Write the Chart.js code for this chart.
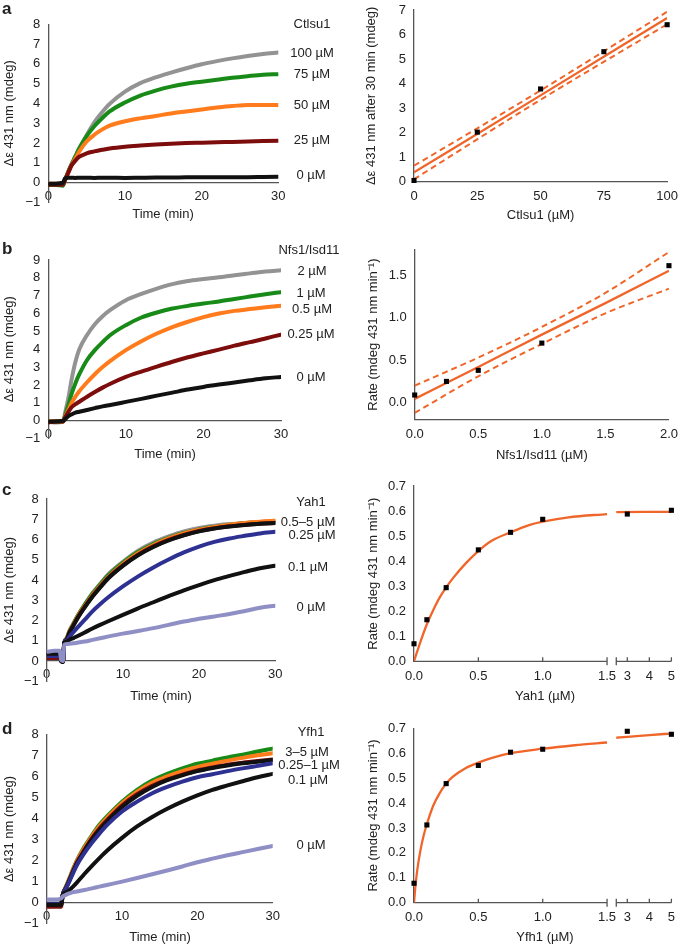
<!DOCTYPE html>
<html>
<head>
<meta charset="utf-8">
<title>Fe-S cluster assembly kinetics</title>
<script src="https://cdn.jsdelivr.net/npm/chart.js@4.4.1/dist/chart.umd.min.js"></script>
<style>
  body { margin: 0; background: #fff; }
  #fig { position: relative; width: 685px; height: 944px; overflow: hidden;
         font-family: 'Liberation Sans', Arial, sans-serif; color: #222; }
  #fig canvas { position: absolute; }
  .lbl { position: absolute; font-size: 13px; white-space: nowrap; transform: translate(-50%, -50%); }
  .pan { position: absolute; font-size: 17px; font-weight: bold; line-height: 1; }
</style>
</head>
<body>
<div id="fig">
  <canvas id="kinA" width="300" height="215" style="left:0;top:0"></canvas>
  <canvas id="kinB" width="300" height="230" style="left:0;top:220px"></canvas>
  <canvas id="kinC" width="300" height="230" style="left:0;top:460px"></canvas>
  <canvas id="kinD" width="300" height="244" style="left:0;top:700px"></canvas>
  <canvas id="endA" width="345" height="230" style="left:340px;top:0"></canvas>
  <canvas id="rateB" width="345" height="235" style="left:340px;top:230px"></canvas>
  <canvas id="rateC" width="345" height="235" style="left:340px;top:465px"></canvas>
  <canvas id="rateD" width="345" height="244" style="left:340px;top:700px"></canvas>

  <div class="pan" style="left:2px;top:0">a</div>
  <div class="pan" style="left:2px;top:240px">b</div>
  <div class="pan" style="left:2px;top:481px">c</div>
  <div class="pan" style="left:2px;top:720px">d</div>

  <div class="lbl" style="left:312px;top:23px">Ctlsu1</div>
  <div class="lbl" style="left:312px;top:52px">100 µM</div>
  <div class="lbl" style="left:312px;top:73px">75 µM</div>
  <div class="lbl" style="left:312px;top:104px">50 µM</div>
  <div class="lbl" style="left:312px;top:139px">25 µM</div>
  <div class="lbl" style="left:311px;top:174px">0 µM</div>
  <div class="lbl" style="left:163px;top:213px">Time (min)</div>

  <div class="lbl" style="left:309px;top:249px">Nfs1/Isd11</div>
  <div class="lbl" style="left:312px;top:270px">2 µM</div>
  <div class="lbl" style="left:311px;top:292px">1 µM</div>
  <div class="lbl" style="left:312px;top:308px">0.5 µM</div>
  <div class="lbl" style="left:311px;top:333px">0.25 µM</div>
  <div class="lbl" style="left:311px;top:376px">0 µM</div>
  <div class="lbl" style="left:165px;top:453px">Time (min)</div>

  <div class="lbl" style="left:311px;top:501px">Yah1</div>
  <div class="lbl" style="left:308px;top:521px">0.5–5 µM</div>
  <div class="lbl" style="left:312px;top:534px">0.25 µM</div>
  <div class="lbl" style="left:308px;top:566px">0.1 µM</div>
  <div class="lbl" style="left:311px;top:606px">0 µM</div>
  <div class="lbl" style="left:161px;top:695px">Time (min)</div>
  <div class="lbl" style="left:545px;top:695px">Yah1 (µM)</div>

  <div class="lbl" style="left:311px;top:731px">Yfh1</div>
  <div class="lbl" style="left:307px;top:751px">3–5 µM</div>
  <div class="lbl" style="left:309px;top:764px">0.25–1 µM</div>
  <div class="lbl" style="left:308px;top:779px">0.1 µM</div>
  <div class="lbl" style="left:311px;top:844px">0 µM</div>
  <div class="lbl" style="left:160px;top:936px">Time (min)</div>
  <div class="lbl" style="left:545px;top:936px">Yfh1 (µM)</div>
</div>

<script>
// ---- a: Ctlsu1 titration, left traces (mdeg vs min) ----
const timeA = [0, 1, 1.9, 2.2, 2.6, 3, 3.5, 4, 5, 6, 7, 8, 10, 12, 14, 16, 18, 20, 22, 24, 26, 28, 30];
const ctl100 = [-0.05, -0.05, -0.05, 0.15, 0.55, 0.9, 1.3, 1.7, 2.4, 3.05, 3.55, 3.98, 4.6, 5.03, 5.32, 5.56, 5.78, 5.98, 6.14, 6.28, 6.4, 6.5, 6.58];
const ctl75 = [-0.12, -0.12, -0.15, 0.15, 0.55, 0.9, 1.3, 1.7, 2.35, 2.85, 3.25, 3.6, 4.05, 4.4, 4.65, 4.85, 5.0, 5.1, 5.2, 5.3, 5.38, 5.45, 5.48];
const ctl50 = [-0.05, -0.05, -0.05, 0.15, 0.5, 0.85, 1.2, 1.55, 2.08, 2.42, 2.68, 2.88, 3.1, 3.25, 3.37, 3.5, 3.6, 3.7, 3.8, 3.87, 3.93, 3.92, 3.92];
const ctl25 = [-0.1, -0.1, -0.1, 0.15, 0.5, 0.85, 1.1, 1.3, 1.48, 1.58, 1.66, 1.73, 1.82, 1.88, 1.93, 1.97, 2.0, 2.02, 2.04, 2.06, 2.08, 2.1, 2.12];
const ctl0 = [-0.05, -0.05, 0, 0.22, 0.25, 0.25, 0.24, 0.25, 0.25, 0.24, 0.25, 0.25, 0.24, 0.25, 0.26, 0.26, 0.27, 0.27, 0.28, 0.28, 0.28, 0.29, 0.3];

// a, right: signal after 30 min
const ctlConc = [0, 25, 50, 75, 100];
const ctlSignal = [0.05, 2.02, 3.78, 5.3, 6.4];
const ctlFitX = [0, 50, 100];
const ctlFit = [0.38, 3.52, 6.67];
const ctlFitHi = [0.65, 3.72, 6.93];
const ctlFitLo = [0.1, 3.34, 6.42];

// ---- b: Nfs1/Isd11 titration ----
const timeB = [0, 1, 1.9, 2.2, 2.6, 3, 3.5, 4, 5, 6, 7, 8, 10, 12, 14, 16, 18, 20, 22, 24, 26, 28, 30];
const nfs2 = [-0.05, -0.1, -0.05, 0.5, 1.3, 2.3, 3.3, 4.0, 4.8, 5.4, 5.85, 6.2, 6.75, 7.1, 7.4, 7.65, 7.82, 7.93, 8.03, 8.15, 8.25, 8.35, 8.42];
const nfs1 = [-0.05, -0.05, -0.05, 0.35, 0.9, 1.5, 2.1, 2.6, 3.4, 3.95, 4.4, 4.8, 5.35, 5.78, 6.06, 6.28, 6.43, 6.56, 6.68, 6.82, 6.95, 7.08, 7.2];
const nfs05 = [-0.05, -0.05, -0.05, 0.25, 0.6, 1.0, 1.35, 1.65, 2.15, 2.6, 3.0, 3.35, 3.95, 4.45, 4.88, 5.24, 5.54, 5.8, 6.0, 6.15, 6.25, 6.35, 6.44];
const nfs025 = [-0.1, -0.05, -0.05, 0.2, 0.5, 0.75, 0.92, 1.06, 1.34, 1.6, 1.85, 2.07, 2.45, 2.75, 3.03, 3.3, 3.55, 3.77, 3.98, 4.2, 4.4, 4.6, 4.82];
const nfs0 = [-0.05, -0.05, 0, 0.1, 0.25, 0.35, 0.45, 0.5, 0.6, 0.7, 0.8, 0.88, 1.05, 1.22, 1.4, 1.57, 1.74, 1.89, 2.02, 2.14, 2.26, 2.37, 2.45];

const nfsConc = [0, 0.25, 0.5, 1.0, 2.0];
const nfsRate = [0.09, 0.25, 0.38, 0.70, 1.61];
const nfsFitX = [0, 0.5, 1, 1.5, 2];
const nfsFit = [0.045, 0.42, 0.80, 1.17, 1.55];
const nfsFitHi = [0.2, 0.53, 0.89, 1.29, 1.77];
const nfsFitLo = [-0.12, 0.31, 0.69, 1.05, 1.34];

// ---- c: Yah1 titration ----
const timeC = [0, 1, 1.7, 1.9, 2.15, 2.3, 2.6, 3, 3.5, 4, 5, 6, 7, 8, 10, 12, 14, 16, 18, 20, 22, 24, 26, 28, 30];
const yahGray = [0.25, 0.25, 0.25, 0.02, 0, 0.9, 1.12, 1.5, 1.85, 2.2, 2.8, 3.35, 3.8, 4.25, 4.9, 5.45, 5.85, 6.15, 6.4, 6.57, 6.68, 6.76, 6.82, 6.87, 6.9];
const yahGreen = [0.2, 0.2, 0.2, 0, -0.02, 0.9, 1.1, 1.48, 1.83, 2.18, 2.78, 3.32, 3.77, 4.2, 4.85, 5.38, 5.78, 6.08, 6.32, 6.5, 6.62, 6.72, 6.8, 6.86, 6.88];
const yahOrange = [0.2, 0.2, 0.2, 0, -0.02, 0.88, 1.08, 1.45, 1.8, 2.15, 2.72, 3.25, 3.7, 4.12, 4.78, 5.32, 5.73, 6.05, 6.3, 6.48, 6.62, 6.73, 6.82, 6.88, 6.92];
const yahRed = [0.15, 0.15, 0.15, -0.02, -0.05, 0.88, 1.06, 1.42, 1.76, 2.1, 2.68, 3.2, 3.65, 4.08, 4.72, 5.25, 5.66, 5.98, 6.22, 6.42, 6.55, 6.65, 6.72, 6.78, 6.82];
const yahBlack = [0.3, 0.3, 0.3, 0, -0.05, 0.88, 1.05, 1.4, 1.74, 2.08, 2.65, 3.17, 3.62, 4.05, 4.7, 5.22, 5.63, 5.95, 6.2, 6.4, 6.54, 6.64, 6.72, 6.78, 6.82];
const yah025 = [0.25, 0.25, 0.25, 0, -0.02, 0.9, 1.0, 1.2, 1.42, 1.63, 2.04, 2.45, 2.8, 3.12, 3.68, 4.18, 4.62, 5.01, 5.36, 5.65, 5.88, 6.05, 6.18, 6.3, 6.38];
const yah01 = [0.35, 0.35, 0.35, 0, -0.05, 0.9, 0.95, 1.05, 1.13, 1.22, 1.41, 1.6, 1.78, 1.95, 2.28, 2.6, 2.9, 3.2, 3.49, 3.75, 3.99, 4.2, 4.4, 4.58, 4.7];
const yah0 = [0.45, 0.5, 0.5, 0.05, 0, 0.8, 0.84, 0.85, 0.87, 0.9, 0.96, 1.04, 1.12, 1.2, 1.35, 1.48, 1.62, 1.78, 1.95, 2.08, 2.2, 2.32, 2.47, 2.63, 2.73];

const yahConc = [0, 0.1, 0.25, 0.5, 0.75, 1.0];
const yahRate = [0.07, 0.166, 0.294, 0.445, 0.515, 0.567];
const yahConcHigh = [3, 5];
const yahRateHigh = [0.588, 0.603];
const yahFitX = [0, 0.05, 0.1, 0.15, 0.2, 0.25, 0.3, 0.4, 0.5, 0.6, 0.75, 0.9, 1.0, 1.2, 1.5];
const yahFit = [0, 0.078, 0.148, 0.205, 0.255, 0.295, 0.33, 0.39, 0.44, 0.48, 0.515, 0.545, 0.558, 0.575, 0.588];
const yahFitXHigh = [2.5, 5];
const yahFitHigh = [0.596, 0.597];

// ---- d: Yfh1 titration ----
const timeD = [0, 1, 1.9, 2.15, 2.6, 3, 3.5, 4, 5, 6, 7, 8, 10, 12, 14, 16, 18, 20, 22, 24, 26, 28, 30];
const yfhGreen = [-0.05, -0.05, -0.05, 0.4, 0.8, 1.15, 1.6, 2.0, 2.65, 3.2, 3.7, 4.1, 4.8, 5.36, 5.8, 6.12, 6.38, 6.6, 6.75, 6.9, 7.03, 7.18, 7.32];
const yfhOrange = [-0.1, -0.1, -0.1, 0.4, 0.78, 1.12, 1.56, 1.97, 2.6, 3.15, 3.63, 4.03, 4.72, 5.27, 5.7, 6.0, 6.25, 6.45, 6.6, 6.75, 6.88, 7.0, 7.1];
const yfhRed = [-0.2, -0.2, -0.2, 0.4, 0.75, 1.08, 1.5, 1.9, 2.5, 3.05, 3.52, 3.92, 4.62, 5.15, 5.55, 5.85, 6.08, 6.28, 6.42, 6.55, 6.65, 6.73, 6.8];
const yfhBlack = [-0.1, -0.1, -0.1, 0.4, 0.72, 1.05, 1.46, 1.85, 2.45, 3.0, 3.45, 3.85, 4.55, 5.08, 5.5, 5.82, 6.05, 6.25, 6.4, 6.52, 6.62, 6.7, 6.78];
const yfhBlue = [-0.05, -0.05, -0.05, 0.4, 0.7, 1.0, 1.4, 1.78, 2.35, 2.84, 3.28, 3.68, 4.33, 4.8, 5.2, 5.5, 5.75, 5.96, 6.1, 6.25, 6.38, 6.5, 6.62];
const yfh01 = [-0.1, -0.1, -0.1, 0.4, 0.5, 0.6, 0.76, 0.95, 1.36, 1.75, 2.12, 2.47, 3.08, 3.62, 4.07, 4.46, 4.8, 5.1, 5.36, 5.57, 5.77, 5.96, 6.12];
const yfh0 = [0.15, 0.15, 0.2, 0.3, 0.38, 0.44, 0.5, 0.53, 0.6, 0.68, 0.76, 0.84, 1.0, 1.17, 1.35, 1.53, 1.72, 1.92, 2.09, 2.25, 2.4, 2.55, 2.69];

const yfhConc = [0, 0.1, 0.25, 0.5, 0.75, 1.0];
const yfhRate = [0.078, 0.312, 0.478, 0.551, 0.604, 0.616];
const yfhConcHigh = [3, 5];
const yfhRateHigh = [0.688, 0.676];
const yfhFitX = [0, 0.01, 0.025, 0.05, 0.075, 0.1, 0.15, 0.2, 0.25, 0.3, 0.4, 0.5, 0.6, 0.75, 1.0, 1.25, 1.5];
const yfhFit = [0, 0.06, 0.13, 0.21, 0.27, 0.315, 0.39, 0.44, 0.478, 0.505, 0.54, 0.562, 0.58, 0.6, 0.618, 0.632, 0.643];
const yfhFitXHigh = [2.5, 3, 4, 5];
const yfhFitHigh = [0.662, 0.666, 0.673, 0.679];

// colours
const GRAY = '#939393', GREEN = '#188a18', ORANGE = '#ff7b1c', DARKRED = '#7d0c0c',
      BLACK = '#111111', NAVY = '#2e3192', LAVENDER = '#8f8fc6', FIT = '#f0662a', AXIS = '#555555';

Chart.defaults.font.family = "'Liberation Sans', Arial, sans-serif";
Chart.defaults.font.size = 13;
Chart.defaults.color = '#222';

const pts = (xs, ys) => xs.map((x, i) => ({x, y: ys[i]}));
const minus = v => String(v).replace('-', '\u2212');
const dec1 = v => Number(v).toFixed(1);
const fixedTicks = vals => s => { s.ticks = vals.map(value => ({value})); };
const plain = {grid: {display: false, drawTicks: false}, border: {color: AXIS, width: 1.3}};
// y axes: the label gap comes from an invisible tick length so the vertical padding stays small
const plainY = {grid: {display: false, drawTicks: true, tickLength: 7}, border: {color: AXIS, width: 1.3}};
const base = {responsive: false, animation: false, events: [],
              plugins: {legend: {display: false}, tooltip: {enabled: false}}};

// first entry ends up on top
function kinetic(id, t, series, ymax, yw, pad) {
  new Chart(document.getElementById(id), {
    type: 'line',
    data: {
      datasets: series.map(([v, color]) => ({
        data: pts(t, v), borderColor: color, borderWidth: 4, pointRadius: 0,
        cubicInterpolationMode: 'monotone', borderJoinStyle: 'round', borderCapStyle: 'round'
      }))
    },
    options: {
      ...base,
      layout: {padding: pad},
      scales: {
        x: {type: 'linear', axis: 'x', position: {y: 0}, min: 0, max: 30, ...plain,
            ticks: {stepSize: 10, padding: 6, maxRotation: 0}},
        y: {type: 'linear', min: -1, max: ymax, ...plainY,
            ticks: {stepSize: 1, padding: 1, autoSkip: false, callback: minus},
            title: {display: true, text: 'Δε 431 nm (mdeg)', padding: {top: 2, bottom: 0}},
            afterFit: s => { s.width = yw; }}
      }
    }
  });
}

kinetic('kinA', timeA, [[ctl0, BLACK], [ctl25, DARKRED], [ctl50, ORANGE], [ctl75, GREEN], [ctl100, GRAY]],
        8, 48.3, {left: 0, top: 24.3, right: 21.7, bottom: 12.5});
kinetic('kinB', timeB, [[nfs0, BLACK], [nfs025, DARKRED], [nfs05, ORANGE], [nfs1, GREEN], [nfs2, GRAY]],
        9, 48.3, {left: 0, top: 40, right: 19, bottom: 11.5});
kinetic('kinC', timeC, [[yah0, LAVENDER], [yah01, BLACK], [yah025, NAVY], [yahBlack, BLACK], [yahRed, DARKRED],
        [yahOrange, ORANGE], [yahGreen, GREEN], [yahGray, GRAY]],
        8, 46.7, {left: 0, top: 39, right: 24.7, bottom: 8.4});
kinetic('kinD', timeD, [[yfh0, LAVENDER], [yfh01, BLACK], [yfhBlue, NAVY], [yfhBlack, BLACK], [yfhRed, DARKRED],
        [yfhOrange, ORANGE], [yfhGreen, GREEN]],
        8, 46.7, {left: 0, top: 34.3, right: 27.3, bottom: 20.3});

const square = (data, xAxisID) => ({data, xAxisID, showLine: false, clip: false, pointStyle: 'rect',
  pointRadius: 3.6, pointBackgroundColor: '#000', pointBorderColor: '#000', pointBorderWidth: 0});
const fitLine = (data, xAxisID, dashed) => ({data, xAxisID, borderColor: FIT, borderWidth: dashed ? 2 : 2.3,
  borderDash: dashed ? [6, 4] : [], pointRadius: 0, cubicInterpolationMode: 'monotone'});

const rateTitle = 'Rate (mdeg 431 nm min\u207B\u00B9)';

// a, right
new Chart(document.getElementById('endA'), {
  type: 'line',
  data: {datasets: [
    square(pts(ctlConc, ctlSignal), 'x'),
    fitLine(pts(ctlFitX, ctlFit), 'x', false),
    fitLine(pts(ctlFitX, ctlFitHi), 'x', true),
    fitLine(pts(ctlFitX, ctlFitLo), 'x', true)
  ]},
  options: {
    ...base,
    layout: {padding: {left: 16, top: 10, right: 10.7, bottom: 7.2}},
    scales: {
      x: {type: 'linear', min: 0, max: 100, ...plain,
          afterBuildTicks: fixedTicks([0, 25, 50, 75, 100]),
          ticks: {padding: 7, maxRotation: 0, autoSkip: false},
          title: {display: true, text: 'Ctlsu1 (µM)', padding: {top: 0, bottom: 0}},
          afterFit: s => { s.height = 41.1; }},
      y: {type: 'linear', min: 0, max: 7, ...plainY,
          ticks: {stepSize: 1, padding: 1, autoSkip: false},
          title: {display: true, text: 'Δε 431 nm after 30 min (mdeg)', padding: {top: 8, bottom: 0}},
          afterFit: s => { s.width = 58; }}
    }
  }
});

// b, right
new Chart(document.getElementById('rateB'), {
  type: 'line',
  data: {datasets: [
    square(pts(nfsConc, nfsRate), 'x'),
    fitLine(pts(nfsFitX, nfsFit), 'x', false),
    fitLine(pts(nfsFitX, nfsFitHi), 'x', true),
    fitLine(pts(nfsFitX, nfsFitLo), 'x', true)
  ]},
  options: {
    ...base,
    layout: {padding: {left: 16, top: 19.5, right: 10.7, bottom: 2.2}},
    scales: {
      x: {type: 'linear', min: 0, max: 2, ...plain,
          afterBuildTicks: fixedTicks([0, 0.5, 1, 1.5, 2]),
          ticks: {padding: 7, maxRotation: 0, autoSkip: false, callback: dec1},
          title: {display: true, text: 'Nfs1/Isd11 (µM)', padding: {top: 0, bottom: 0}},
          afterFit: s => { s.height = 43.1; }},
      y: {type: 'linear', min: -0.2, max: 1.8, ...plainY,
          afterBuildTicks: fixedTicks([0, 0.5, 1, 1.5]),
          ticks: {padding: 1, autoSkip: false, callback: dec1},
          title: {display: true, text: rateTitle, padding: {top: 10, bottom: 0}},
          afterFit: s => { s.width = 58.7; }}
    }
  }
});

// axis line with a break between 1.5 and 2.5
const brokenAxis = {
  id: 'brokenAxis',
  beforeDatasetsDraw(chart) {
    const {ctx, scales: {x, x2, y}} = chart;
    const yb = y.getPixelForValue(0);
    const a1 = x.getPixelForValue(1.5), b0 = x2.getPixelForValue(2.5);
    ctx.save();
    ctx.strokeStyle = AXIS;
    ctx.lineWidth = 1.3;
    ctx.beginPath();
    ctx.moveTo(x.getPixelForValue(0) - 0.6, yb);
    ctx.lineTo(a1, yb);
    ctx.moveTo(b0, yb);
    ctx.lineTo(x2.getPixelForValue(5), yb);
    [a1, b0].forEach(px => { ctx.moveTo(px, yb - 4); ctx.lineTo(px, yb + 4); });
    [[x, [0.5, 1]], [x2, [3, 4, 5]]].forEach(([s, vals]) => vals.forEach(v => {
      const px = s.getPixelForValue(v);
      ctx.moveTo(px, yb);
      ctx.lineTo(px, yb - 4);
    }));
    ctx.stroke();
    ctx.restore();
  }
};

function brokenRate(id, conc, rate, concHi, rateHi, fitX, fit, fitXHi, fitHi, pad) {
  new Chart(document.getElementById(id), {
    type: 'line',
    data: {datasets: [
      square(pts(conc, rate), 'x'),
      square(pts(concHi, rateHi), 'x2'),
      fitLine(pts(fitX, fit), 'x', false),
      fitLine(pts(fitXHi, fitHi), 'x2', false)
    ]},
    options: {
      ...base,
      layout: {padding: pad},
      scales: {
        x: {type: 'linear', axis: 'x', position: 'bottom', stack: 'brk', stackWeight: 201.5,
            min: 0, max: 1.534, grid: {display: false, drawTicks: false}, border: {display: false},
            afterBuildTicks: fixedTicks([0, 0.5, 1, 1.5]),
            ticks: {padding: 7, maxRotation: 0, autoSkip: false, callback: dec1},
            afterFit: s => { s.height = 25; }},
        x2: {type: 'linear', axis: 'x', position: 'bottom', stack: 'brk', stackWeight: 61.2,
             min: 2.28, max: 5, grid: {display: false, drawTicks: false}, border: {display: false},
             afterBuildTicks: fixedTicks([3, 4, 5]),
             ticks: {padding: 7, maxRotation: 0, autoSkip: false},
             afterFit: s => { s.height = 25; }},
        y: {type: 'linear', min: 0, max: 0.7, ...plainY,
            afterBuildTicks: fixedTicks([0, 0.1, 0.2, 0.3, 0.4, 0.5, 0.6, 0.7]),
            ticks: {padding: 1, autoSkip: false, callback: dec1},
            title: {display: true, text: rateTitle, padding: {top: 10, bottom: 0}},
            afterFit: s => { s.width = 58; }}
      }
    },
    plugins: [brokenAxis]
  });
}

brokenRate('rateC', yahConc, yahRate, yahConcHigh, yahRateHigh, yahFitX, yahFit, yahFitXHigh, yahFitHigh,
           {left: 16, top: 21, right: 8.3, bottom: 13.7});
brokenRate('rateD', yfhConc, yfhRate, yfhConcHigh, yfhRateHigh, yfhFitX, yfhFit, yfhFitXHigh, yfhFitHigh,
           {left: 16, top: 28.3, right: 8.3, bottom: 16.3});
</script>
</body>
</html>
